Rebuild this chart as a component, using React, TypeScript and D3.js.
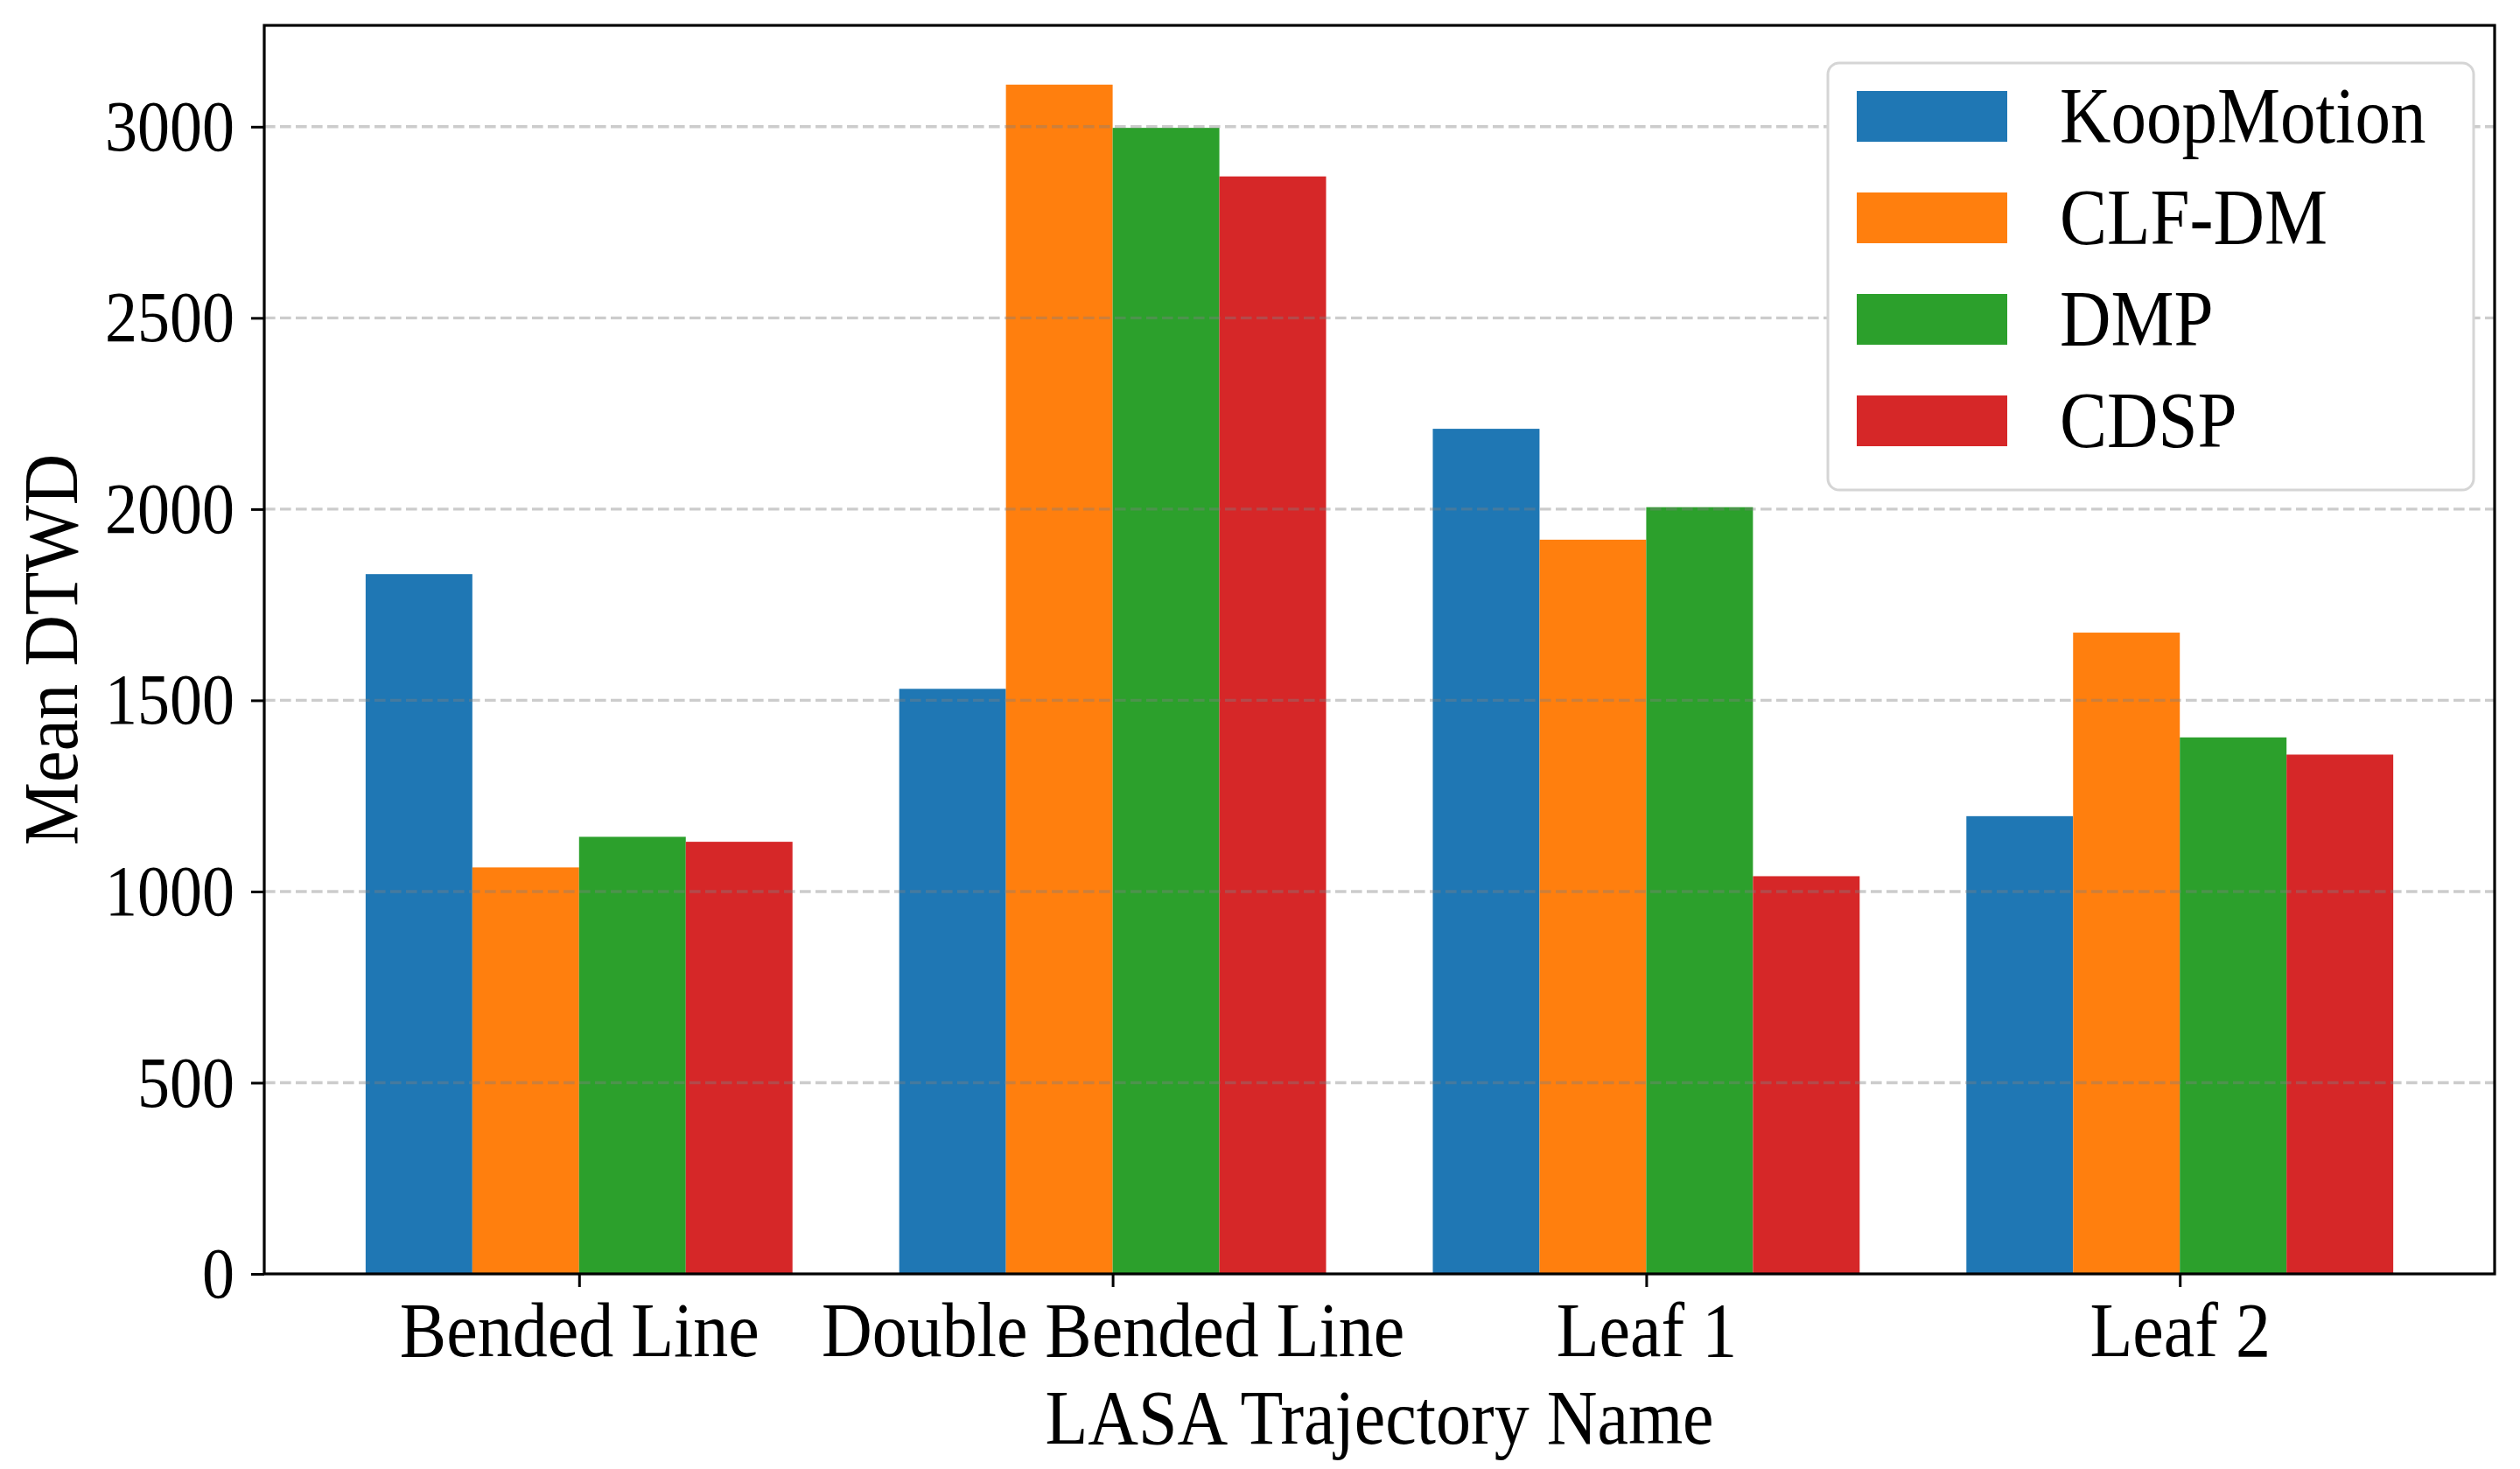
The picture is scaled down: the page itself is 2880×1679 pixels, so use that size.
import { useEffect, useRef } from "react";
import * as d3 from "d3";

// Chart data
const CATEGORIES = ["Bended Line", "Double Bended Line", "Leaf 1", "Leaf 2"];
const METHODS = ["KoopMotion", "CLF-DM", "DMP", "CDSP"];
const KOOPMOTION = [1830, 1530, 2210, 1197];
const CLF_DM = [1063, 3110, 1920, 1677];
const DMP = [1143, 2997, 2005, 1403];
const CDSP = [1130, 2870, 1040, 1358];
const Y_TICKS = [0, 500, 1000, 1500, 2000, 2500, 3000];
const COLORS = ["#1f77b4", "#ff7f0e", "#2ca02c", "#d62728"];

const SERIES = [KOOPMOTION, CLF_DM, DMP, CDSP];

export default function App() {
	const ref = useRef<SVGSVGElement | null>(null);

	useEffect(() => {
		document.body.style.margin = "0";
		const svg = d3.select(ref.current);
		svg.selectAll("*").remove();

		const W = 2880;
		const H = 1679;
		const plot = { left: 302, right: 2851, top: 29, bottom: 1456 };
		const font = "'Liberation Serif', 'Times New Roman', serif";
		const stretch = 1.12; // glyphs in the original are taller than wide
		const barW = 0.2;

		svg.append("rect").attr("width", W).attr("height", H).attr("fill", "#fff");

		// Scales (matplotlib-like continuous x with 5% margins)
		const x = d3.scaleLinear()
			.domain([-0.59, 3.59])
			.range([plot.left, plot.right]);

		const y = d3.scaleLinear()
			.domain([0, 3265])
			.range([plot.bottom, plot.top]);

		// Bars
		const bars = svg.append("g");
		SERIES.forEach((values, i) => {
			bars.selectAll(null)
				.data(values)
				.enter()
				.append("rect")
				.attr("x", (_, c) => x(c + (i - 2) * barW))
				.attr("y", d => y(d))
				.attr("width", x(barW) - x(0))
				.attr("height", d => y(0) - y(d))
				.attr("fill", COLORS[i]);
		});

		// Dashed grid drawn on top of the bars
		svg.append("g")
			.selectAll("line")
			.data(Y_TICKS.filter(t => t > 0))
			.enter()
			.append("line")
			.attr("x1", plot.left)
			.attr("x2", plot.right)
			.attr("y1", d => y(d))
			.attr("y2", d => y(d))
			.attr("stroke", "#808080")
			.attr("stroke-opacity", 0.4)
			.attr("stroke-width", 3.4)
			.attr("stroke-dasharray", "12.6 5.4");

		// Y axis
		const yAxis = svg.append("g")
			.attr("transform", `translate(${plot.left},0)`)
			.call(
				d3.axisLeft(y)
					.tickValues(Y_TICKS)
					.tickSize(15)
					.tickPadding(19)
					.tickFormat(d3.format("d"))
			);
		yAxis.select(".domain").remove();
		yAxis.selectAll(".tick line").attr("stroke", "#000").attr("stroke-width", 3);
		yAxis.selectAll(".tick text")
			.attr("fill", "#000")
			.attr("font-family", font)
			.attr("font-size", 74)
			.attr("transform", `scale(1,${stretch})`);

		// X axis
		const xAxis = svg.append("g")
			.attr("transform", `translate(0,${plot.bottom})`)
			.call(
				d3.axisBottom(x)
					.tickValues(d3.range(CATEGORIES.length))
					.tickSize(15)
					.tickFormat(i => CATEGORIES[i as number])
			);
		xAxis.select(".domain").remove();
		xAxis.selectAll(".tick line").attr("stroke", "#000").attr("stroke-width", 3);
		xAxis.selectAll(".tick text")
			.attr("y", null)
			.attr("dy", null)
			.attr("fill", "#000")
			.attr("font-family", font)
			.attr("font-size", 80)
			.attr("transform", `translate(0,94) scale(1,1.1)`);

		// Axis labels
		svg.append("text")
			.attr("transform", `translate(${(plot.left + plot.right) / 2},1650) scale(1,1.1)`)
			.attr("text-anchor", "middle")
			.attr("font-family", font)
			.attr("font-size", 80)
			.text("LASA Trajectory Name");

		svg.append("text")
			.attr("transform", `translate(88,${(plot.top + plot.bottom) / 2}) rotate(-90) scale(1,1.1)`)
			.attr("text-anchor", "middle")
			.attr("font-family", font)
			.attr("font-size", 81)
			.text("Mean DTWD");

		// Legend
		const legend = svg.append("g");
		legend.append("rect")
			.attr("x", 2089)
			.attr("y", 72)
			.attr("width", 2827 - 2089)
			.attr("height", 560 - 72)
			.attr("rx", 13)
			.attr("fill", "#fff")
			.attr("stroke", "#d5d5d5")
			.attr("stroke-width", 3);

		METHODS.forEach((m, i) => {
			const top = 104 + i * 116;
			legend.append("rect")
				.attr("x", 2122)
				.attr("y", top)
				.attr("width", 172)
				.attr("height", 58)
				.attr("fill", COLORS[i]);
			legend.append("text")
				.attr("transform", `translate(2354,${top + 29 + 30}) scale(1,${stretch})`)
				.attr("font-family", font)
				.attr("font-size", 81)
				.text(m);
		});

		// Spines
		svg.append("rect")
			.attr("x", plot.left)
			.attr("y", plot.top)
			.attr("width", plot.right - plot.left)
			.attr("height", plot.bottom - plot.top)
			.attr("fill", "none")
			.attr("stroke", "#000")
			.attr("stroke-width", 3.2);
	}, []);

	return <svg ref={ref} width={2880} height={1679} style={{ display: "block" }}></svg>;
}
